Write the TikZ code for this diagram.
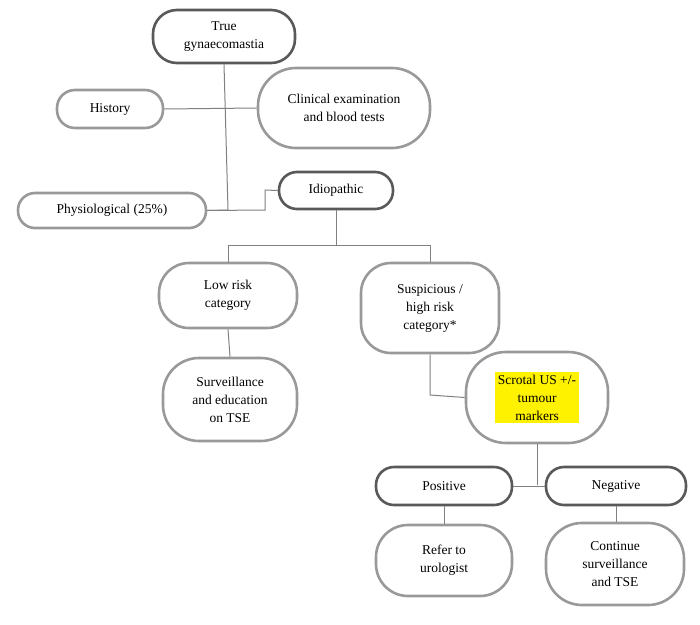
\documentclass[tikz,border=0pt]{standalone}
\usepackage{fontspec}
\setmainfont{Liberation Serif}
\begin{document}
\begin{tikzpicture}[x=1pt,y=-1pt,
  box/.style={draw=#1,line width=2.6pt,align=center,font=\fontsize{13.5}{18}\selectfont,inner sep=0pt},
  box/.default={black!40},
  dk/.style={box=black!65},
  ln/.style={draw=black!50,line width=1pt}]
\useasboundingbox (0,0) rectangle (700,624);
\newcommand\bx[7][box]{\node[#1,minimum width=#4-#2,minimum height=#5-#3,rounded corners=#6] (#7) at ({(#2+#4)/2},{(#3+#5)/2})}
\bx[dk]{153}{10}{295}{63}{24}{true} {True\\gynaecomastia};
\bx{57}{90}{163}{128}{18}{hist} {History};
\bx{258}{68}{430}{148}{38}{clin} {Clinical examination\\and blood tests};
\bx{18}{193}{206}{228}{17}{phys} {Physiological (25\%)};
\bx[dk]{279}{172}{393}{209}{18}{idio} {Idiopathic};
\bx{159}{263}{297}{328}{30}{low} {Low risk\\category};
\bx{361}{263}{499}{353}{30}{susp} {Suspicious /\\high risk\\category*};
\bx{163}{358}{297}{441}{36}{surv} {Surveillance\\and education\\on TSE};
\bx{466}{352}{608}{443}{40}{scro} {\colorbox{yellow}{\parbox{0pt}{\centering\hspace{0pt}}}};
\node[align=center,font=\fontsize{13.5}{18}\selectfont,fill=yellow,inner sep=3pt] at (scro) {Scrotal US +/-\\tumour\\markers};
\bx[dk]{376}{467}{512}{505}{18}{pos} {Positive};
\bx[dk]{546}{467}{686}{505}{18}{neg} {Negative};
\bx{376}{525}{512}{596}{32}{ref} {Refer to\\urologist};
\bx{546}{523}{684}{605}{36}{cont} {Continue\\surveillance\\and TSE};
\draw[ln] (true.south) -- (228,210) -- (phys.east);
\draw[ln] (hist.east) -- (clin.west);
\draw[ln] (phys.east) -- (265,210) -- (265,190) -- (idio.west);
\draw[ln] (idio.south) -- (336,245);
\draw[ln] (228,245) -- (430,245);
\draw[ln] (228,245) -- (low.north);
\draw[ln] (430,245) -- (susp.north);
\draw[ln] (low.south) -- (surv.north);
\draw[ln] (susp.south) -- (430,395) -- (scro.west);
\draw[ln] (scro.south) -- (537,485);
\draw[ln] (pos.east) -- (neg.west);
\draw[ln] (pos.south) -- (ref.north);
\draw[ln] (neg.south) -- (neg.south|-cont.north);
\end{tikzpicture}
\end{document}
